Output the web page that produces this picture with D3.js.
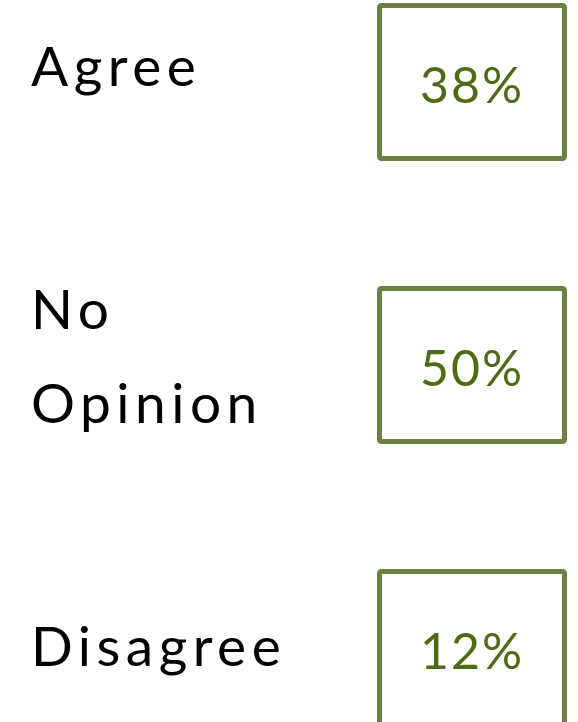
<!DOCTYPE html>
<html>
<head>
<meta charset="utf-8">
<script src="https://cdn.jsdelivr.net/npm/d3@7"></script>
<style>
  html, body { margin: 0; padding: 0; background: #fff; }
  #chart { width: 578px; height: 722px; overflow: hidden; }
</style>
</head>
<body>
<div id="chart"></div>
<script>
// survey answers and their shares
var categories = ["Agree", "No Opinion", "Disagree"];
var shares = [38, 50, 12];

var width = 578, height = 722;

var svg = d3.select("#chart")
  .append("svg")
    .attr("width", width)
    .attr("height", height);

// boxes and labels each sit on a point scale over the answers
var y = d3.scalePoint().domain(categories).range([82, 648]);
var yLabel = d3.scalePoint().domain(categories).range([86, 666]);

var boxW = 185, boxH = 153, boxX = 379.5;

// labels, wrapped when too wide
var lineH = 94, maxW = 290;
svg.selectAll(".label")
  .data(categories)
  .enter()
  .append("text")
    .attr("class", "label")
    .attr("x", 31)
    .attr("fill", "#000")
    .style("font-family", "Lato, 'Noto Sans', sans-serif")
    .style("font-size", "55px")
    .style("letter-spacing", "5.5px")
    .each(function(d) {
      var t = d3.select(this);
      var words = d.split(" "), lines = [], cur = "";
      words.forEach(function(w) {
        var test = cur ? cur + " " + w : w;
        t.text(test);
        if (cur && this.getComputedTextLength() > maxW) { lines.push(cur); cur = w; }
        else cur = test;
      }, this);
      lines.push(cur);
      t.text(null);
      var off = yLabel(d) - (lines.length - 1) * lineH / 2;
      lines.forEach(function(l, i) {
        t.append("tspan")
          .attr("x", 31)
          .attr("y", off + i * lineH)
          .text(l);
      });
    });

var rows = svg.selectAll(".row")
  .data(categories)
  .enter()
  .append("g")
    .attr("class", "row")
    .attr("transform", function(d) { return "translate(0," + y(d) + ")"; });

// boxes
rows.append("rect")
  .attr("x", boxX)
  .attr("y", -boxH / 2)
  .attr("width", boxW)
  .attr("height", boxH)
  .attr("rx", 2)
  .attr("fill", "none")
  .attr("stroke", "#6b8042")
  .attr("stroke-width", 5);

rows.append("text")
  .attr("x", boxX + boxW / 2)
  .attr("y", 21)
  .attr("text-anchor", "middle")
  .attr("fill", "#4f6a14")
  .style("font-family", "Lato, 'Noto Sans', sans-serif")
  .style("font-size", "50px")
  .style("letter-spacing", "2px")
  .text(function(d, i) { return shares[i] + "%"; });
</script>
</body>
</html>
